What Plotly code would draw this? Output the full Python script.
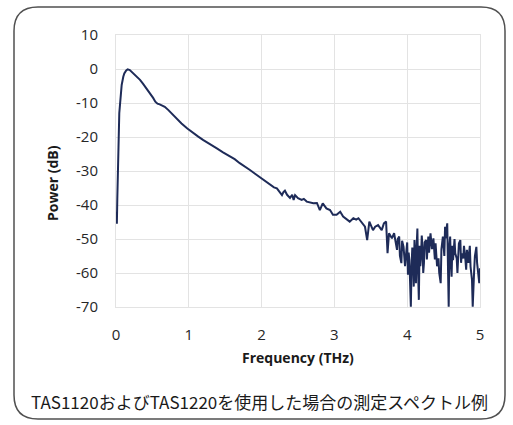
import plotly.graph_objects as go

# Data
freq_thz = [0.000, 0.006, 0.012, 0.018, 0.025, 0.032, 0.045, 0.055, 0.078, 0.10, 0.114, 0.14, 0.16, 0.19,
            0.22, 0.26, 0.30, 0.33, 0.37, 0.40, 0.44, 0.47, 0.51, 0.54, 0.57, 0.60, 0.64, 0.67, 0.72,
            0.76, 0.83, 0.90, 0.98, 1.06, 1.13, 1.20, 1.29, 1.38, 1.47, 1.57, 1.63, 1.70, 1.77, 1.84,
            1.91, 1.98, 2.05, 2.12, 2.17, 2.21, 2.25, 2.28, 2.30, 2.32, 2.35, 2.39, 2.42, 2.44, 2.46,
            2.50, 2.55, 2.58, 2.62, 2.66, 2.71, 2.76, 2.80, 2.84, 2.89, 2.94, 2.98, 3.03, 3.08, 3.12,
            3.17, 3.21, 3.26, 3.30, 3.33, 3.37, 3.42, 3.45, 3.48, 3.53, 3.56, 3.60, 3.65, 3.68, 3.71,
            3.73, 3.75, 3.79, 3.82,
            3.86, 3.87, 3.89, 3.90, 3.92, 3.93, 3.95, 3.97, 3.99, 4.00, 4.01, 4.02, 4.03, 4.04, 4.05,
            4.06, 4.07, 4.08, 4.09, 4.10, 4.11, 4.12, 4.13, 4.14, 4.15, 4.16, 4.17, 4.18, 4.19, 4.20,
            4.21, 4.22, 4.23, 4.24, 4.26, 4.27, 4.29, 4.30, 4.32, 4.34, 4.36, 4.38, 4.39, 4.41, 4.43,
            4.44, 4.46, 4.47, 4.49, 4.51, 4.52, 4.53, 4.54, 4.55, 4.56, 4.57, 4.58, 4.59, 4.60, 4.61,
            4.62, 4.63, 4.65, 4.66, 4.68, 4.69, 4.71, 4.73, 4.74, 4.75, 4.77, 4.78, 4.80, 4.81, 4.82,
            4.84, 4.85, 4.86, 4.87, 4.89, 4.90, 4.91, 4.92, 4.93, 4.95, 4.96, 4.98, 4.99, 5.00]
power_db = [-42.0, -44.5, -45.5, -38.0, -28.0, -19.5, -13.0, -10.5, -4.7, -2.3, -1.3, -0.4, -0.1, -0.3,
            -0.9, -1.8, -2.6, -3.2, -4.3, -5.2, -6.2, -7.2, -8.5, -9.6, -10.2, -10.4, -10.7, -11.1, -12.1,
            -13.0, -14.4, -16.0, -17.5, -18.9, -19.9, -20.9, -22.2, -23.3, -24.5, -25.8, -26.5, -27.7, -28.6, -29.7,
            -30.8, -31.9, -32.8, -34.1, -34.8, -35.1, -36.1, -37.1, -36.2, -35.8, -37.0, -37.9, -37.0, -38.5, -37.1,
            -38.0, -38.5, -38.2, -39.0, -39.2, -39.5, -39.4, -41.5, -39.5, -41.0, -41.5, -42.9, -42.9, -42.0, -43.4,
            -44.4, -44.9, -43.9, -44.3, -43.9, -44.9, -46.4, -50.3, -44.9, -47.4, -46.4, -45.9, -47.4, -45.4, -44.9,
            -54.2, -48.3, -49.8, -48.3,
            -53.2, -50.0, -49.3, -55.0, -57.1, -50.5, -52.3, -58.0, -53.2, -51.0, -60.5, -54.0, -56.2, -62.0, -69.9,
            -58.0, -52.5, -56.2, -64.0, -50.3, -57.0, -63.0, -52.0, -46.9, -60.0, -67.9, -52.0, -58.0, -55.2, -49.0,
            -52.3, -60.0, -57.1, -51.0, -50.3, -56.0, -49.3, -54.0, -48.3, -53.0, -49.8, -56.0, -51.3, -58.0, -55.7,
            -60.0, -63.0, -53.0, -49.3, -55.0, -46.4, -49.8, -47.0, -45.4, -58.0, -69.9, -52.0, -49.3, -57.0, -61.1,
            -52.0, -56.2, -50.0, -54.2, -55.7, -60.0, -51.3, -50.3, -57.0, -54.2, -55.7, -52.0, -56.2, -59.0, -53.2,
            -57.0, -54.2, -52.0, -58.1, -62.0, -69.9, -62.0, -59.1, -55.0, -52.3, -57.0, -60.1, -63.0, -58.6]

x_ticks = [0, 1, 2, 3, 4, 5]
y_ticks = [10, 0, -10, -20, -30, -40, -50, -60, -70]

x_title = "Frequency (THz)"
y_title = "Power (dB)"
caption = "TAS1120およびTAS1220を使用した場合の測定スペクトル例"

W, H = 513, 425
L, R, T, B = 116, 480, 35, 307  # plot area in pixels


def px(xp):
    return (xp - L) / (R - L)


def py(yp):
    return (B - yp) / (B - T)


# rounded border path (paper coordinates)
x0, x1, y0, y1, rad = 14, 505, 7, 419, 24
path = (
    f"M {px(x0 + rad)},{py(y0)} L {px(x1 - rad)},{py(y0)} "
    f"Q {px(x1)},{py(y0)} {px(x1)},{py(y0 + rad)} "
    f"L {px(x1)},{py(y1 - rad)} "
    f"Q {px(x1)},{py(y1)} {px(x1 - rad)},{py(y1)} "
    f"L {px(x0 + rad)},{py(y1)} "
    f"Q {px(x0)},{py(y1)} {px(x0)},{py(y1 - rad)} "
    f"L {px(x0)},{py(y0 + rad)} "
    f"Q {px(x0)},{py(y0)} {px(x0 + rad)},{py(y0)} Z"
)

fig = go.Figure()
fig.add_trace(go.Scatter(x=freq_thz, y=power_db, mode="lines",
                         line=dict(color="#1e2b58", width=2), showlegend=False,
                         hoverinfo="skip"))

tick_font = dict(family="Open Sans, Noto Sans, sans-serif", size=15, color="#262626")
grid_col = "#e3e3e3"

fig.update_layout(
    width=W, height=H,
    margin=dict(l=L, r=W - R, t=T, b=H - B, pad=0),
    paper_bgcolor="white", plot_bgcolor="white",
    xaxis=dict(range=[0, 5], tickvals=x_ticks, ticktext=[str(v) for v in x_ticks],
               showgrid=True, gridcolor=grid_col, gridwidth=1, zeroline=False,
               showline=True, linecolor=grid_col, linewidth=1, mirror=True,
               ticks="", tickfont=tick_font, ticklabelstandoff=14, fixedrange=True),
    yaxis=dict(range=[-70, 10], tickvals=y_ticks, ticktext=[str(v) for v in y_ticks],
               showgrid=True, gridcolor=grid_col, gridwidth=1, zeroline=False,
               showline=True, linecolor=grid_col, linewidth=1, mirror=True,
               ticks="", tickfont=tick_font, ticklabelstandoff=14, fixedrange=True),
    shapes=[dict(type="path", xref="paper", yref="paper", path=path,
                 line=dict(color="#505050", width=1.5), fillcolor="rgba(0,0,0,0)", layer="above")],
    annotations=[
        dict(text=f"<b>{x_title}</b>", xref="paper", yref="paper", x=px(298), y=py(357),
             showarrow=False, xanchor="center", yanchor="middle",
             font=dict(family="Open Sans, Noto Sans, sans-serif", size=14, color="#1a1a1a")),
        dict(text=f"<b>{y_title}</b>", xref="paper", yref="paper", x=px(52), y=py(183),
             showarrow=False, xanchor="center", yanchor="middle", textangle=-90,
             font=dict(family="Open Sans, Noto Sans, sans-serif", size=14, color="#1a1a1a")),
        dict(text=caption, xref="paper", yref="paper", x=px(259), y=py(401),
             showarrow=False, xanchor="center", yanchor="middle",
             font=dict(family="Noto Sans CJK JP, sans-serif", size=17, color="#1a1a1a")),
    ],
)

fig.write_html("out.html", config={"displayModeBar": False},
               post_script="document.body.style.margin='0px';")
